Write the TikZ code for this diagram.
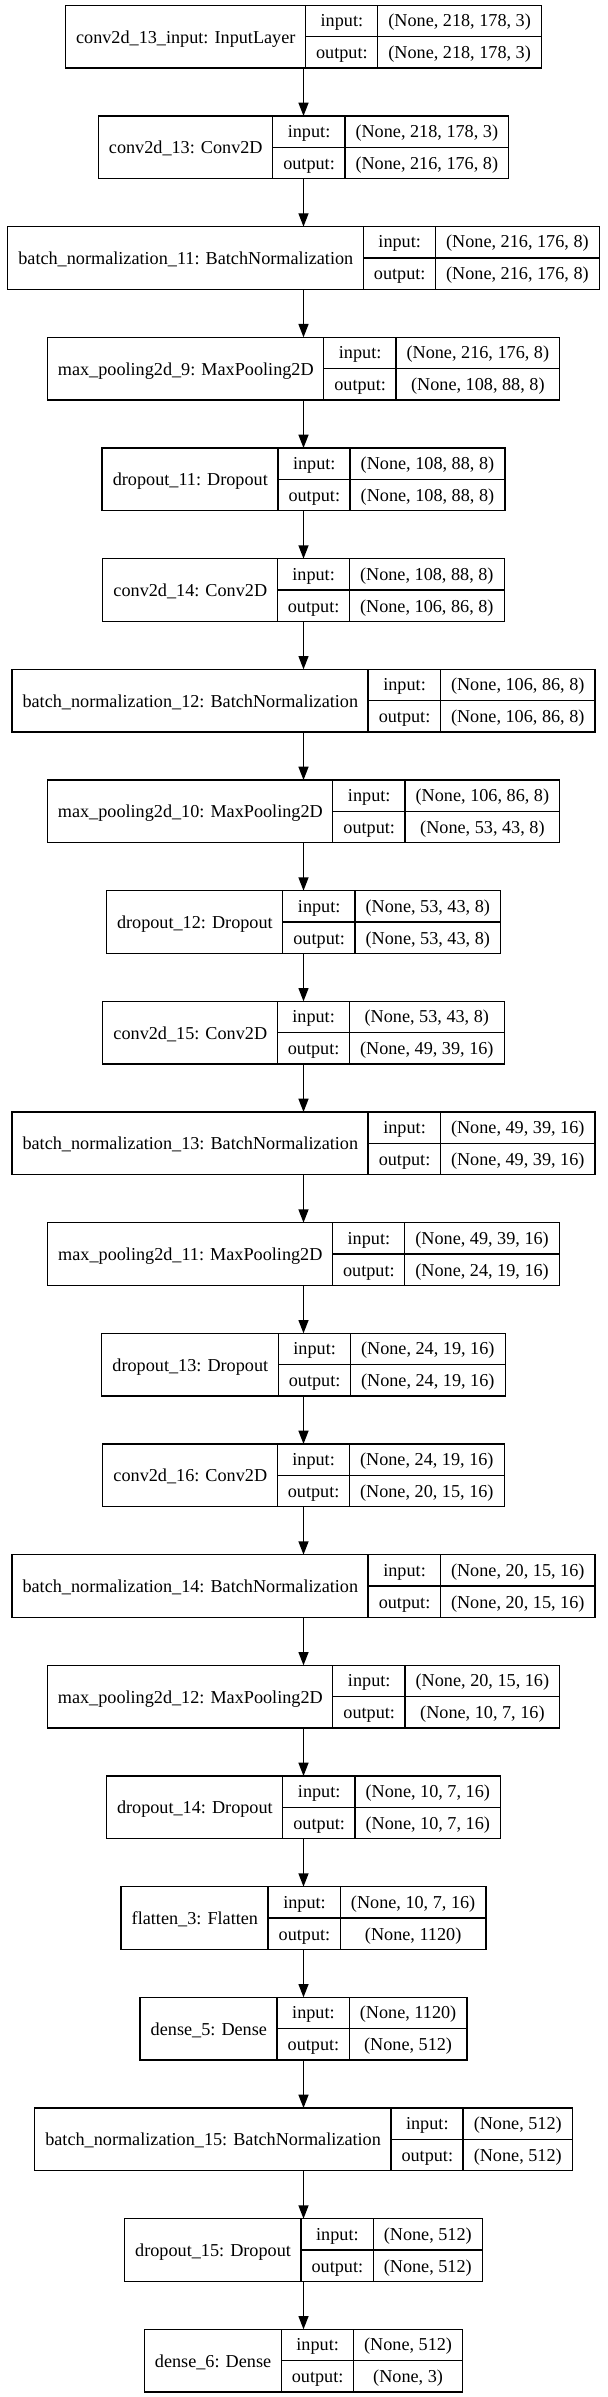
\documentclass[tikz,border=0pt]{standalone}
\usepackage{fontspec}
\setmainfont{Liberation Serif}
\usepackage{tikz}
\usetikzlibrary{arrows.meta}

\newcommand{\kfont}{\fontsize{13.65pt}{16pt}\selectfont}
\newcommand{\rowstrut}{\rule[-7pt]{0pt}{23pt}}
\setlength{\arrayrulewidth}{1pt}

\begin{document}
\begin{tikzpicture}[
    layer/.style={draw=black, line width=1pt, inner sep=0pt, outer sep=0pt, font=\kfont},
    flow/.style={line width=1pt, -{Triangle[length=10pt, width=7.5pt]}}
  ]
  \useasboundingbox (0,0) rectangle (455.25pt,-1797.75pt);

  % Layers: name / input shape / output shape
  \foreach \k/\lname/\ishape/\oshape in {
    1/{conv2d\_13\_input: InputLayer}/{(None, 218, 178, 3)}/{(None, 218, 178, 3)},
    2/{conv2d\_13: Conv2D}/{(None, 218, 178, 3)}/{(None, 216, 176, 8)},
    3/{batch\_normalization\_11: BatchNormalization}/{(None, 216, 176, 8)}/{(None, 216, 176, 8)},
    4/{max\_pooling2d\_9: MaxPooling2D}/{(None, 216, 176, 8)}/{(None, 108, 88, 8)},
    5/{dropout\_11: Dropout}/{(None, 108, 88, 8)}/{(None, 108, 88, 8)},
    6/{conv2d\_14: Conv2D}/{(None, 108, 88, 8)}/{(None, 106, 86, 8)},
    7/{batch\_normalization\_12: BatchNormalization}/{(None, 106, 86, 8)}/{(None, 106, 86, 8)},
    8/{max\_pooling2d\_10: MaxPooling2D}/{(None, 106, 86, 8)}/{(None, 53, 43, 8)},
    9/{dropout\_12: Dropout}/{(None, 53, 43, 8)}/{(None, 53, 43, 8)},
    10/{conv2d\_15: Conv2D}/{(None, 53, 43, 8)}/{(None, 49, 39, 16)},
    11/{batch\_normalization\_13: BatchNormalization}/{(None, 49, 39, 16)}/{(None, 49, 39, 16)},
    12/{max\_pooling2d\_11: MaxPooling2D}/{(None, 49, 39, 16)}/{(None, 24, 19, 16)},
    13/{dropout\_13: Dropout}/{(None, 24, 19, 16)}/{(None, 24, 19, 16)},
    14/{conv2d\_16: Conv2D}/{(None, 24, 19, 16)}/{(None, 20, 15, 16)},
    15/{batch\_normalization\_14: BatchNormalization}/{(None, 20, 15, 16)}/{(None, 20, 15, 16)},
    16/{max\_pooling2d\_12: MaxPooling2D}/{(None, 20, 15, 16)}/{(None, 10, 7, 16)},
    17/{dropout\_14: Dropout}/{(None, 10, 7, 16)}/{(None, 10, 7, 16)},
    18/{flatten\_3: Flatten}/{(None, 10, 7, 16)}/{(None, 1120)},
    19/{dense\_5: Dense}/{(None, 1120)}/{(None, 512)},
    20/{batch\_normalization\_15: BatchNormalization}/{(None, 512)}/{(None, 512)},
    21/{dropout\_15: Dropout}/{(None, 512)}/{(None, 512)},
    22/{dense\_6: Dense}/{(None, 512)}/{(None, 3)}} {
    \pgfmathsetmacro\ymid{-(27.5+(\k-1)*83)}
    \node[layer] (l\k) at (227.625pt,\ymid pt) {%
      \begin{tabular}{@{\hspace{8pt}}c@{\hspace{7.5pt}}|@{}c@{}}
        \raisebox{-1.2pt}{\lname} &
        \begin{tabular}{@{\hspace{7.5pt}}c@{\hspace{7.5pt}}|@{\hspace{7.5pt}}c@{\hspace{8pt}}}
          \rowstrut input: & \ishape \\ \hline
          \rowstrut output: & \oshape
        \end{tabular}
      \end{tabular}};
  }

  % Arrows
  \foreach \k [evaluate=\k as \j using int(\k+1)] in {1,...,21}
    \draw[flow] (l\k) -- (l\j);
\end{tikzpicture}
\end{document}
